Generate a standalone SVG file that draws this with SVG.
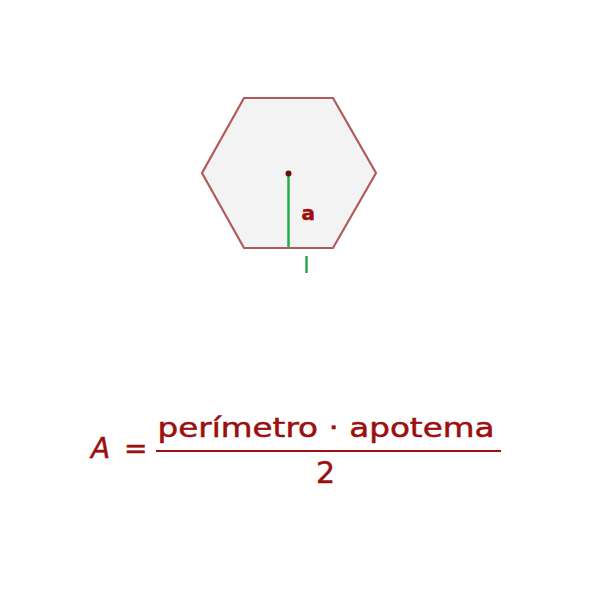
<svg xmlns="http://www.w3.org/2000/svg" width="600" height="600" viewBox="0 0 600 600">
<style>
.t{font-family:"DejaVu Sans","Verdana",sans-serif;fill:#9b0f0f;stroke:#9b0f0f;stroke-width:0.5}
</style>
<rect width="600" height="600" fill="#ffffff"/>
<g id="hexagon">
<polygon points="244,98 333,98 376,173 333,248 244,248 202,173" fill="#f3f3f3" stroke="#b25a5a" stroke-width="2.2"/>
</g>
<g id="connectors">
<line x1="288.5" y1="174" x2="288.5" y2="248" stroke="#2aa84a" stroke-width="2.5"/>
<line x1="306.5" y1="256" x2="306.5" y2="273" stroke="#2aa84a" stroke-width="2.5"/>
</g>
<g id="center">
<circle cx="288.5" cy="173.5" r="3" fill="#6a0d0d"/>
</g>
<g id="label-a">
<text class="t" x="301.5" y="220" font-size="20" font-weight="bold" stroke-width="0.3">a</text>
</g>
<g id="formula">
<text class="t" x="91" y="458" font-size="28" font-style="italic">A</text>
<text class="t" x="124" y="458" font-size="28">=</text>
<text class="t" x="157.5" y="437" font-size="27" textLength="337" lengthAdjust="spacingAndGlyphs">perímetro · apotema</text>
<line x1="156" y1="451" x2="501" y2="451" stroke="#9b0f0f" stroke-width="2"/>
<text class="t" x="316" y="483" font-size="30">2</text>
</g>
</svg>
